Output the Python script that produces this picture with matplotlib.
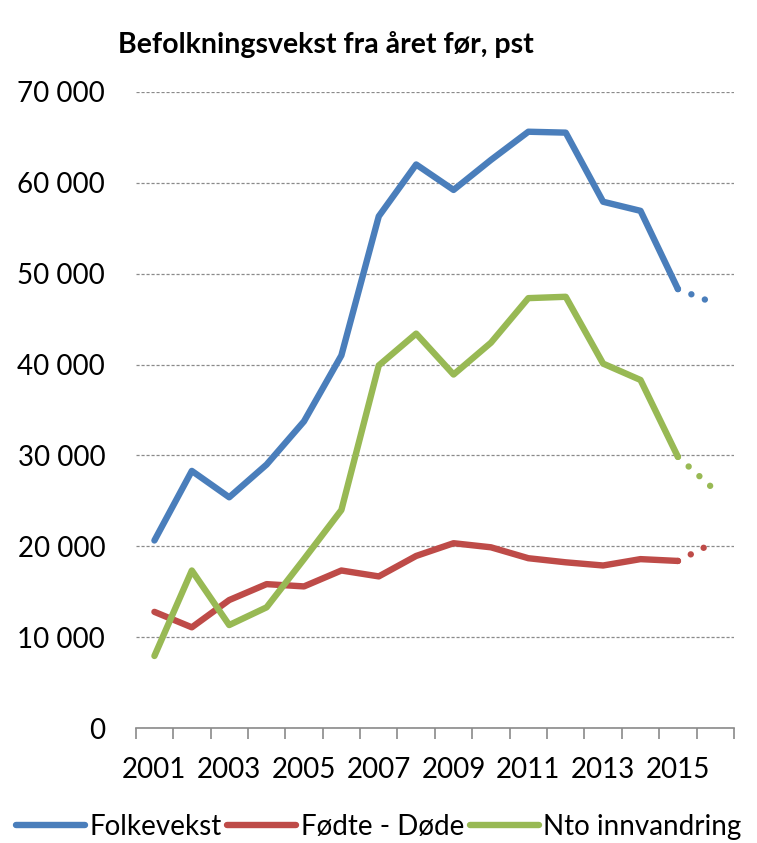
import matplotlib
matplotlib.use("Agg")
import matplotlib.pyplot as plt
import numpy as np

# population growth, Norway (last year = projection, drawn dotted)
years = list(range(2001, 2017))
folkevekst = [20650, 28300, 25400, 29000, 33750, 41000, 56300, 62000, 59200,
              62500, 65600, 65500, 57900, 56900, 48300, 46700]
fodte_dode = [12800, 11100, 14100, 15850, 15600, 17350, 16700, 18950, 20350,
              19900, 18700, 18250, 17900, 18600, 18400, 20500]
nto_innv = [7950, 17350, 11350, 13300, 18600, 24000, 39900, 43400, 38900,
            42400, 47300, 47450, 40100, 38300, 29850, 26150]

labels = ["Folkevekst", "Fødte - Døde", "Nto innvandring"]
colors = ["#4A7EBB", "#BE4B48", "#98B954"]
yticks = list(range(0, 70001, 10000))
xlabels = [str(y) for y in range(2001, 2016, 2)]

plt.rcParams['font.family'] = ['Lato', 'DejaVu Sans']

fig = plt.figure(figsize=(7.57, 8.43), dpi=100)
ax = fig.add_axes([0.1793, 0.1361, 0.9696 - 0.1793, 0.8912 - 0.1361])

for vals, lab, col in zip([folkevekst, fodte_dode, nto_innv], labels, colors):
    ax.plot(years[:15], vals[:15], color=col, lw=4.6, label=lab,
            solid_capstyle="round", solid_joinstyle="round", zorder=3)
    ax.plot(years[14:], vals[14:], color=col, lw=4.6,
            linestyle=(0, (0.01, 2.25)), dash_capstyle="round", zorder=3)

ax.set_xlim(2000.5, 2016.5)
ax.set_ylim(0, 70000)
ax.set_yticks(yticks)
ax.set_yticklabels([f"{v:,}".replace(",", " ") for v in yticks], fontsize=20)
ax.yaxis.grid(True, color="#8a8a8a", linestyle=(0, (2.5, 1.5)), linewidth=0.9)
ax.set_axisbelow(True)
ax.tick_params(axis="y", length=0, pad=22)

ax.set_xticks(np.arange(2000.5, 2017, 1))
ax.set_xticklabels([])
ax.tick_params(axis="x", which="major", length=8, width=1.2, color="#8a8a8a",
               direction="out")
ax.set_xticks(range(2001, 2016, 2), minor=True)
ax.set_xticklabels(xlabels, minor=True, fontsize=20)
ax.tick_params(axis="x", which="minor", length=0, pad=21)

for s in ["top", "right", "left"]:
    ax.spines[s].set_visible(False)
ax.spines["bottom"].set_color("#8a8a8a")
ax.spines["bottom"].set_linewidth(1.2)

fig.text(0.43, 0.947, "Befolkningsvekst fra året før, pst", fontsize=20.5,
         fontweight="bold", ha="center", va="center")

fig.legend(loc="lower center", bbox_to_anchor=(0.5, -0.016), ncol=3,
           frameon=False, fontsize=20, handlelength=2.5, handletextpad=0.15,
           columnspacing=0.2, borderaxespad=0.2)

fig.savefig("out.png", dpi=100)
